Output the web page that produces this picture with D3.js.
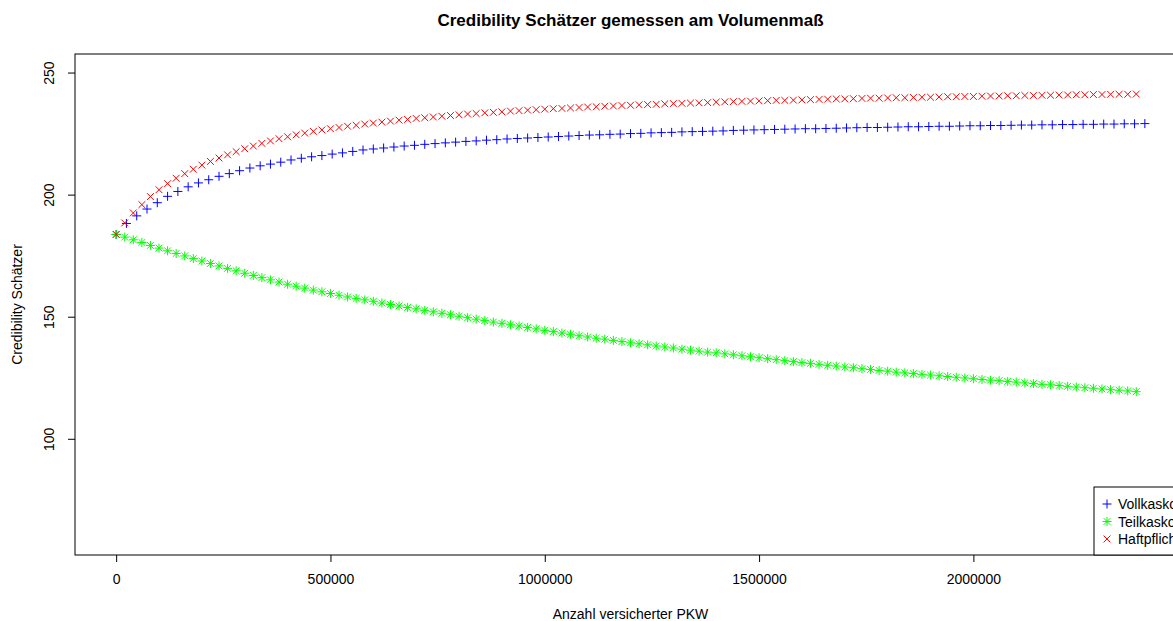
<!DOCTYPE html>
<html>
<head>
<meta charset="utf-8">
<script src="https://cdn.jsdelivr.net/npm/d3@7"></script>
<style>
  body { margin: 0; background: #fff; }
  text { font-family: "Liberation Sans", Arial, sans-serif; fill: #000; }
</style>
</head>
<body>
<div id="chart"></div>
<script>
// x grids (Anzahl versicherter PKW)
const stepTH = 20000;   // Teilkasko / Haftpflicht
const stepVK = 24000;   // Vollkasko

const vollkasko = [
  183.7, 188.2, 191.3, 194.1, 196.7, 199.3, 201.3, 203.2, 204.8, 206.1,
  207.5, 208.6, 209.8, 210.9, 211.8, 212.5, 213.3, 214.2, 214.9, 215.5,
  216.0, 216.6, 217.1, 217.7, 218.3, 218.7, 219.1, 219.5, 219.9, 220.2,
  220.6, 220.9, 221.2, 221.5, 221.8, 222.0, 222.3, 222.5, 222.8, 223.0,
  223.2, 223.4, 223.6, 223.8, 224.0, 224.2, 224.4, 224.5, 224.7, 224.8,
  225.0, 225.1, 225.3, 225.4, 225.5, 225.7, 225.8, 225.9, 226.0, 226.1,
  226.3, 226.4, 226.5, 226.6, 226.7, 226.8, 226.9, 227.0, 227.0, 227.1,
  227.2, 227.3, 227.4, 227.5, 227.5, 227.6, 227.7, 227.8, 227.8, 227.9,
  228.0, 228.0, 228.1, 228.2, 228.2, 228.3, 228.3, 228.4, 228.5, 228.5,
  228.6, 228.6, 228.7, 228.7, 228.8, 228.8, 228.9, 228.9, 229.0, 229.0,
  229.1
];

const teilkasko = [
  183.7, 182.6, 181.5, 180.4, 179.2, 178.1, 177.0, 175.9, 174.9, 173.8,
  172.8, 171.8, 170.8, 169.8, 168.8, 167.8, 166.9, 166.0, 165.1, 164.2,
  163.3, 162.5, 161.7, 160.9, 160.2, 159.5, 158.8, 158.1, 157.5, 156.9,
  156.3, 155.6, 155.0, 154.4, 153.8, 153.2, 152.6, 152.0, 151.4, 150.8,
  150.2, 149.6, 149.0, 148.4, 147.8, 147.3, 146.7, 146.2, 145.6, 145.0,
  144.4, 143.9, 143.3, 142.8, 142.2, 141.7, 141.2, 140.8, 140.3, 139.8,
  139.3, 138.9, 138.5, 138.0, 137.6, 137.2, 136.7, 136.3, 135.9, 135.5,
  135.2, 134.8, 134.4, 134.0, 133.6, 133.2, 132.8, 132.4, 132.0, 131.6,
  131.2, 130.9, 130.5, 130.1, 129.8, 129.4, 129.1, 128.7, 128.4, 128.0,
  127.7, 127.3, 127.0, 126.7, 126.4, 126.1, 125.8, 125.5, 125.2, 124.9,
  124.6, 124.3, 124.0, 123.8, 123.5, 123.2, 122.9, 122.6, 122.3, 122.1,
  121.8, 121.5, 121.2, 120.9, 120.7, 120.4, 120.1, 119.9, 119.6, 119.3
];

const haftpflicht = [
  183.7, 188.4, 192.5, 195.9, 199.2, 202.0, 204.5, 206.7, 208.6, 210.4,
  212.1, 213.6, 215.0, 216.3, 217.6, 218.8, 219.9, 221.0, 222.0, 222.9,
  223.7, 224.5, 225.2, 225.9, 226.5, 227.0, 227.5, 228.0, 228.4, 228.9,
  229.3, 229.7, 230.1, 230.5, 230.8, 231.2, 231.5, 231.8, 232.1, 232.4,
  232.7, 233.0, 233.2, 233.5, 233.7, 233.9, 234.2, 234.4, 234.6, 234.8,
  235.0, 235.2, 235.3, 235.5, 235.7, 235.9, 236.0, 236.2, 236.3, 236.5,
  236.6, 236.8, 236.9, 237.0, 237.2, 237.3, 237.4, 237.5, 237.6, 237.7,
  237.9, 238.0, 238.1, 238.2, 238.3, 238.4, 238.5, 238.6, 238.6, 238.7,
  238.8, 238.9, 239.0, 239.1, 239.2, 239.2, 239.3, 239.4, 239.5, 239.5,
  239.6, 239.7, 239.7, 239.8, 239.9, 239.9, 240.0, 240.1, 240.1, 240.2,
  240.2, 240.3, 240.4, 240.4, 240.5, 240.5, 240.6, 240.6, 240.7, 240.7,
  240.8, 240.8, 240.9, 240.9, 241.0, 241.0, 241.1, 241.1, 241.1, 241.2
];

const xTicks = [0, 500000, 1000000, 1500000, 2000000];
const yTicks = [100, 150, 200, 250];
const legendLabels = ["Vollkasko", "Teilkasko", "Haftpflicht"];

const width = 1173, height = 621;
const box = { left: 75, right: 1186, top: 54, bottom: 555 };

const svg = d3.select("#chart")
  .append("svg")
  .attr("width", width)
  .attr("height", height);

// R style: data range plus 4% each side
const x = d3.scaleLinear()
  .domain([-96000, 2496000])
  .range([box.left, box.right]);

const y = d3.scaleLinear()
  .domain([52.4, 257.6])
  .range([box.bottom, box.top]);

// symbols
const plus = "M-4.5,0H4.5M0,-4.5V4.5";
const cross = "M-3.4,-3.4L3.4,3.4M-3.4,3.4L3.4,-3.4";
const star = plus + cross;

const series = [
  { values: vollkasko, step: stepVK, color: "#0000ff", path: plus },
  { values: teilkasko, step: stepTH, color: "#00ff00", path: star },
  { values: haftpflicht, step: stepTH, color: "#ff0000", path: cross }
];

series.forEach(s => {
  svg.append("g")
    .selectAll("path")
    .data(s.values)
    .join("path")
    .attr("transform", (d, i) => `translate(${x(i * s.step)},${y(d)})`)
    .attr("d", s.path)
    .attr("fill", "none")
    .attr("stroke", s.color)
    .attr("stroke-width", 1);
});

// plot box
svg.append("rect")
  .attr("x", box.left)
  .attr("y", box.top)
  .attr("width", box.right - box.left)
  .attr("height", box.bottom - box.top)
  .attr("fill", "none")
  .attr("stroke", "#000")
  .attr("stroke-width", 1);

// axes
const xAxis = svg.append("g")
  .attr("transform", `translate(0,${box.bottom})`)
  .call(d3.axisBottom(x).tickValues(xTicks).tickFormat(d3.format("d")).tickSize(7).tickPadding(12));

const yAxis = svg.append("g")
  .attr("transform", `translate(${box.left},0)`)
  .call(d3.axisLeft(y).tickValues(yTicks).tickSize(7).tickPadding(0));

[xAxis, yAxis].forEach(a => {
  a.select(".domain").remove();
  a.selectAll("text").style("font-size", "14px").attr("fill", "#000");
  a.selectAll("line").attr("stroke", "#000");
});

yAxis.selectAll(".tick text")
  .attr("x", null)
  .attr("dy", null)
  .attr("text-anchor", "middle")
  .attr("transform", "translate(-21,0) rotate(-90)");

// titles
svg.append("text")
  .attr("x", (box.left + box.right) / 2)
  .attr("y", 26)
  .attr("text-anchor", "middle")
  .style("font-size", "17px")
  .style("font-weight", "bold")
  .text("Credibility Schätzer gemessen am Volumenmaß");

svg.append("text")
  .attr("x", (box.left + box.right) / 2)
  .attr("y", 619)
  .attr("text-anchor", "middle")
  .style("font-size", "14px")
  .text("Anzahl versicherter PKW");

svg.append("text")
  .attr("transform", `translate(22,${(box.top + box.bottom) / 2}) rotate(-90)`)
  .attr("text-anchor", "middle")
  .style("font-size", "14px")
  .text("Credibility Schätzer");

// legend (cut at the window edge, as in the source)
const legend = svg.append("g");
legend.append("rect")
  .attr("x", 1094)
  .attr("y", 487)
  .attr("width", box.right - 1094)
  .attr("height", box.bottom - 487)
  .attr("fill", "#fff")
  .attr("stroke", "#000");

series.forEach((s, i) => {
  const yy = 504 + i * 17.5;
  legend.append("path")
    .attr("transform", `translate(1107,${yy})`)
    .attr("d", s.path)
    .attr("fill", "none")
    .attr("stroke", s.color);
  legend.append("text")
    .attr("x", 1118)
    .attr("y", yy + 5)
    .style("font-size", "14px")
    .text(legendLabels[i]);
});
</script>
</body>
</html>
